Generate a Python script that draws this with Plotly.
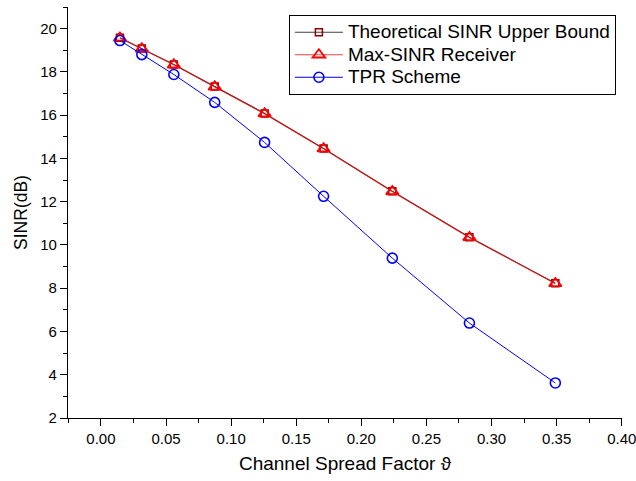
import plotly.graph_objects as go

x_vals = [0.0146, 0.0314, 0.056, 0.0874, 0.1257, 0.171, 0.2238, 0.283, 0.349]
theory_sinr = [19.58, 19.08, 18.34, 17.32, 16.08, 14.46, 12.48, 10.36, 8.23]
maxsinr_sinr = [19.57, 19.07, 18.33, 17.31, 16.07, 14.45, 12.47, 10.35, 8.22]
tpr_sinr = [19.45, 18.80, 17.88, 16.59, 14.74, 12.25, 9.39, 6.39, 3.62]

series_names = ["Theoretical SINR Upper Bound", "Max-SINR Receiver", "TPR Scheme"]

x_ticks = [0.0, 0.05, 0.10, 0.15, 0.20, 0.25, 0.30, 0.35, 0.40]
x_ticklabels = ["0.00", "0.05", "0.10", "0.15", "0.20", "0.25", "0.30", "0.35", "0.40"]
x_minor = [-0.025, 0.025, 0.075, 0.125, 0.175, 0.225, 0.275, 0.325, 0.375]
y_ticks = [2, 4, 6, 8, 10, 12, 14, 16, 18, 20]
y_minor = [3, 5, 7, 9, 11, 13, 15, 17, 19, 21]

font_family = "Liberation Sans, Arial, sans-serif"


def legend_label(s):
    return '<span style="font-size:19px">' + s + "</span>"


fig = go.Figure()
fig.add_trace(go.Scatter(
    x=x_vals, y=theory_sinr, mode="lines+markers",
    name=legend_label(series_names[0]),
    line=dict(color="#404040", width=1.2),
    marker=dict(symbol="square-open", size=7, color="#8B0000", line=dict(width=1.5, color="#8B0000")),
))
fig.add_trace(go.Scatter(
    x=x_vals, y=maxsinr_sinr, mode="lines+markers",
    name=legend_label(series_names[1]),
    line=dict(color="rgba(255,0,0,0.75)", width=1.2),
    marker=dict(symbol="triangle-up-open", size=11, color="#FF0000", line=dict(width=1.8, color="#FF0000")),
))
fig.add_trace(go.Scatter(
    x=x_vals, y=tpr_sinr, mode="lines+markers",
    name=legend_label(series_names[2]),
    line=dict(color="#0000FF", width=1),
    marker=dict(symbol="circle-open", size=10, color="#0000FF", line=dict(width=1.6, color="#0000FF")),
))

fig.update_layout(
    width=636, height=481,
    margin=dict(l=68, r=14, t=7, b=63, autoexpand=False),
    paper_bgcolor="white", plot_bgcolor="white",
    font=dict(family=font_family, color="black", size=15),
    showlegend=True,
    legend=dict(
        x=0.989, y=0.9805, xanchor="right", yanchor="top",
        bgcolor="white", bordercolor="black", borderwidth=1,
        font=dict(size=15, family=font_family),
        tracegroupgap=0, itemwidth=48,
    ),
    xaxis=dict(
        range=[-0.0253, 0.4002],
        tickvals=x_ticks, ticktext=x_ticklabels,
        ticklabeloverflow="allow", automargin=False,
        showgrid=False, zeroline=False,
        showline=True, linecolor="black", linewidth=1.3,
        ticks="outside", ticklen=7, tickwidth=1.3, tickcolor="black",
        minor=dict(tickvals=x_minor, ticks="outside", ticklen=4, tickwidth=1.3,
                   tickcolor="black", showgrid=False),
        tickfont=dict(size=15),
        title=dict(text="Channel Spread Factor ϑ", font=dict(size=19), standoff=10),
    ),
    yaxis=dict(
        range=[2, 21],
        tickvals=y_ticks, automargin=False,
        showgrid=False, zeroline=False,
        showline=True, linecolor="black", linewidth=1.3,
        ticks="outside", ticklen=7, tickwidth=1.3, tickcolor="black",
        minor=dict(tickvals=y_minor, ticks="outside", ticklen=4, tickwidth=1.3,
                   tickcolor="black", showgrid=False),
        tickfont=dict(size=15),
        title=dict(text="SINR(dB)", font=dict(size=17.5), standoff=8),
    ),
)

fig.write_html("out.html")
